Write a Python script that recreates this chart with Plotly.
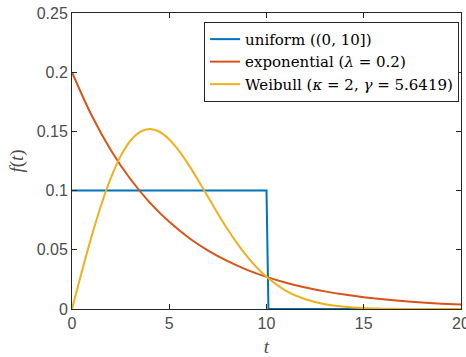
import plotly.graph_objects as go

# uniform on (0, 10]
t_unif = [0, 10, 10.1, 20]
f_unif = [0.1, 0.1, 0.0, 0.0]

# exponential, lambda = 0.2
t_exp = list(range(0, 21))
f_exp = [0.2, 0.1638, 0.1341, 0.1098, 0.0899, 0.0736, 0.0602, 0.0493, 0.0404,
         0.0331, 0.0271, 0.0222, 0.0181, 0.0149, 0.0122, 0.0100, 0.0082, 0.0067,
         0.0055, 0.0045, 0.0037]

# Weibull, kappa = 2, gamma = 5.6419
t_wbl = [0, 0.5, 1, 1.5, 2, 2.5, 3, 3.5, 4, 4.5, 5, 5.5, 6, 6.5, 7, 7.5, 8, 8.5,
         9, 9.5, 10, 11, 12, 13, 14, 15, 16, 17, 18, 20]
f_wbl = [0.0, 0.0312, 0.0609, 0.0878, 0.1108, 0.1291, 0.1421, 0.1497, 0.1520,
         0.1497, 0.1432, 0.1336, 0.1217, 0.1083, 0.0944, 0.0805, 0.0673, 0.0552,
         0.0444, 0.0350, 0.0272, 0.0154, 0.0082, 0.0040, 0.0019, 0.0008, 0.0003,
         0.0001, 0.0, 0.0]

x_ticks = [0, 5, 10, 15, 20]
y_ticks = [0, 0.05, 0.1, 0.15, 0.2, 0.25]
y_tick_text = ["0", "0.05", "0.1", "0.15", "0.2", "0.25"]

BLUE, RED, YELLOW = "#0072BD", "#D95319", "#EDB120"
SERIF = "DejaVu Serif, Liberation Serif, serif"
SANS = "Liberation Sans, Arial, sans-serif"

fig = go.Figure()
fig.add_trace(go.Scatter(x=t_unif, y=f_unif, mode="lines", line=dict(color=BLUE, width=2),
                         name="uniform ((0, 10])"))
fig.add_trace(go.Scatter(x=t_exp, y=f_exp, mode="lines", line=dict(color=RED, width=2, shape="spline"),
                         name="exponential (<i>λ</i> = 0.2)"))
fig.add_trace(go.Scatter(x=t_wbl, y=f_wbl, mode="lines", line=dict(color=YELLOW, width=2, shape="spline"),
                         name="Weibull (<i>κ</i> = 2, <i>γ</i> = 5.6419)"))

axis_common = dict(
    showgrid=False, zeroline=False, showline=True, linecolor="#262626", linewidth=1,
    mirror="ticks", ticks="inside", ticklen=5, tickcolor="#262626",
    tickfont=dict(family=SANS, size=16, color="#4d4d4d"),
    ticklabeloverflow="allow", automargin=False,
)
fig.update_xaxes(range=[0, 20], tickvals=x_ticks, **axis_common,
                 title=dict(text="<i>t</i>", font=dict(family="Liberation Serif, serif", size=19, color="#4d4d4d"),
                            standoff=8))
fig.update_yaxes(range=[0, 0.25], tickvals=y_ticks, ticktext=y_tick_text, **axis_common,
                 title=dict(text="<i>f</i>(<i>t</i>)", font=dict(family="Liberation Serif, serif", size=19, color="#4d4d4d"),
                            standoff=8))

fig.update_layout(
    width=466, height=357,
    margin=dict(l=72, r=5, t=13, b=48),
    plot_bgcolor="white", paper_bgcolor="white",
    legend=dict(x=0.995, y=0.97, xanchor="right", yanchor="top",
                bordercolor="#262626", borderwidth=1, bgcolor="white",
                font=dict(family=SERIF, size=15, color="#000000"),
                tracegroupgap=0, itemwidth=30),
    showlegend=True,
)

# drop the browser's default body margin so the figure sits at the window origin
fig.write_html("out.html", config={"displayModeBar": False},
               post_script="document.body.style.margin='0';")
